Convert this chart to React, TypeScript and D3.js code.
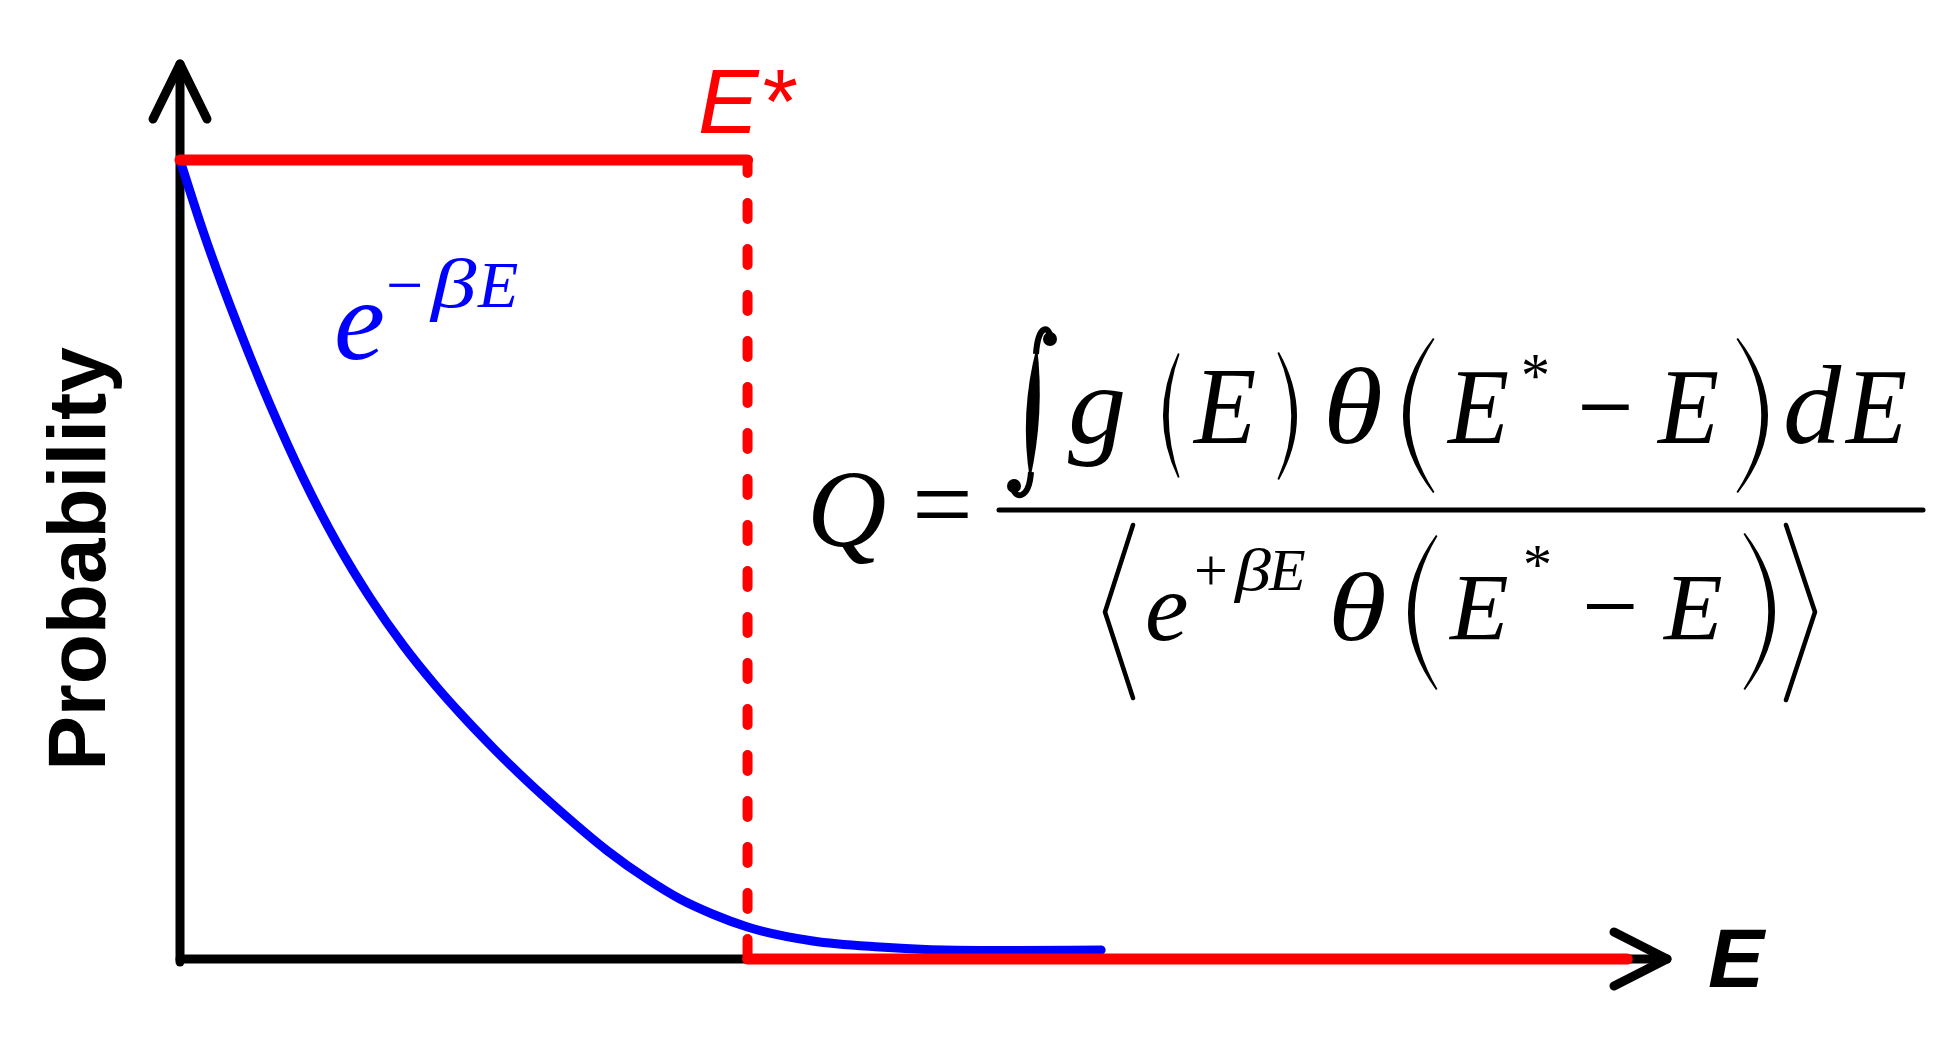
import { useEffect, useRef } from 'react';
import * as d3 from 'd3';

// energy in units of the cut-off E*, probability normalised to the step height
const energyStar = 1.0;
const energyAxisMax = 2.62;
const probAxisMax = 1.12;
const stepHeight = 1.0;
const stepEnd = 2.55;

// blue curve
const boltzE = [0, 0.041, 0.1, 0.159, 0.217, 0.277, 0.335, 0.393, 0.453, 0.493, 0.552, 0.611, 0.67, 0.752, 0.823, 0.881, 0.939, 1.0, 1.115, 1.233, 1.41, 1.623];
const boltzP = [1.0, 0.91, 0.796, 0.693, 0.602, 0.52, 0.452, 0.393, 0.34, 0.308, 0.264, 0.223, 0.185, 0.136, 0.1, 0.075, 0.056, 0.04, 0.0225, 0.015, 0.0106, 0.0113];

const yLabel = 'Probability';
const xLabel = 'E';
const cutLabel = 'E*';

const SERIF = '"Liberation Serif", "Times New Roman", serif';
const SANS = '"Liberation Sans", Arial, sans-serif';

export default function App() {
  const svgRef = useRef<SVGSVGElement>(null);

  useEffect(() => {
    if (!svgRef.current) return;
    const width = 1943;
    const height = 1056;

    const svg = d3.select(svgRef.current);
    svg.selectAll('*').remove();
    svg.attr('width', width).attr('height', height);

    const x = d3.scaleLinear().domain([0, energyAxisMax]).range([180, 1667]);
    const y = d3.scaleLinear().domain([0, probAxisMax]).range([959, 64.1]);

    // axes with open arrow heads
    const axes = svg.append('g').attr('stroke', '#000').attr('stroke-width', 9)
      .attr('stroke-linecap', 'round').attr('fill', 'none');
    axes.append('line').attr('x1', x(0)).attr('y1', y(0) + 3).attr('x2', x(0)).attr('y2', y(probAxisMax));
    axes.append('line').attr('x1', x(0)).attr('y1', y(0)).attr('x2', x(energyAxisMax)).attr('y2', y(0));
    axes.append('path').attr('stroke-linejoin', 'round')
      .attr('d', `M${x(0) - 27},${y(probAxisMax) + 55}L${x(0)},${y(probAxisMax)}L${x(0) + 27},${y(probAxisMax) + 55}`);
    axes.append('path').attr('stroke-linejoin', 'round')
      .attr('d', `M${x(energyAxisMax) - 53},${y(0) - 27}L${x(energyAxisMax)},${y(0)}L${x(energyAxisMax) - 53},${y(0) + 27}`);

    // e^{-beta E}
    const line = d3.line<number>()
      .x((_, i) => x(boltzE[i]))
      .y((d) => y(d))
      .curve(d3.curveMonotoneX);
    svg.append('path').attr('d', line(boltzP) || '').attr('fill', 'none')
      .attr('stroke', '#0000ff').attr('stroke-width', 9).attr('stroke-linecap', 'round');

    // step function theta(E* - E)
    const red = svg.append('g').attr('stroke', '#ff0000').attr('fill', 'none').attr('stroke-linecap', 'round');
    red.append('line').attr('stroke-width', 11)
      .attr('x1', x(0)).attr('y1', y(stepHeight)).attr('x2', x(energyStar)).attr('y2', y(stepHeight));
    red.append('line').attr('stroke-width', 10).attr('stroke-dasharray', '16 30').attr('stroke-dashoffset', 3)
      .attr('x1', x(energyStar)).attr('y1', y(stepHeight)).attr('x2', x(energyStar)).attr('y2', y(0));
    red.append('line').attr('stroke-width', 11)
      .attr('x1', x(energyStar)).attr('y1', y(0)).attr('x2', x(stepEnd)).attr('y2', y(0));

    // labels
    svg.append('text').attr('transform', 'translate(105,559) rotate(-90)')
      .attr('text-anchor', 'middle').attr('font-family', SANS).attr('font-weight', 'bold')
      .attr('font-size', 82).attr('fill', '#000').text(yLabel);
    svg.append('text').attr('x', 1708).attr('y', 987).attr('font-family', SANS)
      .attr('font-weight', 'bold').attr('font-style', 'italic').attr('font-size', 84).text(xLabel);
    svg.append('text').attr('x', 698).attr('y', 133).attr('font-family', SANS)
      .attr('font-style', 'italic').attr('font-size', 91).attr('fill', '#ff0000').text(cutLabel);

    const put = (g: any, s: string, px: number, py: number, size: number, italic = true, fill = '#000', sx = 1) =>
      g.append('text')
        .attr('transform', `translate(${px},${py}) scale(${sx},1)`)
        .attr('font-family', SERIF)
        .attr('font-style', italic ? 'italic' : 'normal').attr('font-size', size).attr('fill', fill).text(s);

    // blue e^{-βE}
    put(svg, 'e', 334, 359, 115, true, '#0000ff');
    put(svg, '\u2212', 386, 307, 66, false, '#0000ff');
    put(svg, '\u03b2', 431, 307, 70, true, '#0000ff', 1.3);
    put(svg, 'E', 478, 307, 66, true, '#0000ff');

    // Q = ...
    put(svg, 'Q', 807, 546, 110);
    put(svg, '=', 912, 540, 108, false);
    svg.append('line').attr('x1', 999).attr('x2', 1923).attr('y1', 510).attr('y2', 510)
      .attr('stroke', '#000').attr('stroke-width', 5).attr('stroke-linecap', 'round');

    const paren = (x0: number, x1: number, yt: number, yb: number, left: boolean, t = 6) => {
      const ym = (yt + yb) / 2;
      if (left) {
        const cOut = 2 * x0 - x1;
        const cIn = 2 * (x0 + t) - x1;
        return `M${x1},${yt}Q${cOut},${ym} ${x1},${yb}L${x1 + 1.5},${yb - 1}Q${cIn},${ym} ${x1 + 1.5},${yt + 1}Z`;
      }
      const cOut = 2 * x1 - x0;
      const cIn = 2 * (x1 - t) - x0;
      return `M${x0},${yt}Q${cOut},${ym} ${x0},${yb}L${x0 - 1.5},${yb - 1}Q${cIn},${ym} ${x0 - 1.5},${yt + 1}Z`;
    };
    const glyphs = svg.append('g').attr('fill', '#000');
    [
      paren(1163, 1178, 353, 478, true, 5),
      paren(1279, 1297, 352, 480, false, 5),
      paren(1403, 1433, 338, 493, true),
      paren(1738, 1768, 338, 493, false),
      paren(1408, 1436, 535, 690, true),
      paren(1745, 1775, 533, 690, false),
      // integral stem
      'M1037,346Q1045,413 1030,480Q1019,413 1037,346Z',
    ].forEach((d) => glyphs.append('path').attr('d', d));
    glyphs.append('path').attr('fill', 'none').attr('stroke', '#000').attr('stroke-width', 6)
      .attr('d', 'M1051,338C1049,325 1038,324 1036,354M1031,472C1029,500 1015,499 1013,488');
    glyphs.append('circle').attr('cx', 1050).attr('cy', 339).attr('r', 7);
    glyphs.append('circle').attr('cx', 1014).attr('cy', 486).attr('r', 7);
    svg.append('path').attr('fill', 'none').attr('stroke', '#000').attr('stroke-width', 4.5)
      .attr('stroke-linecap', 'round').attr('stroke-linejoin', 'round')
      .attr('d', 'M1133,525L1105,612L1133,698M1786,525L1815,612L1786,700');

    // numerator, slightly stretched vertically
    const num = svg.append('g').attr('transform', 'translate(0,443) scale(1,1.08)');
    put(num, 'g', 1068, 0, 104, true, '#000', 1.12);
    put(num, 'E', 1194, 0, 102);
    put(num, '\u03b8', 1323, 0, 100, true, '#000', 1.22);
    put(num, 'E', 1448, 0, 100);
    put(num, '*', 1521, -43, 58, false);
    put(num, '\u2212', 1577, 0, 100, false);
    put(num, 'E', 1658, 0, 100);
    put(num, 'd', 1783, 0, 104, true, '#000', 1.12);
    put(num, 'E', 1846, 0, 100);

    // denominator
    put(svg, 'e', 1145, 640, 98);
    put(svg, '+', 1194, 590, 60, false);
    put(svg, '\u03b2', 1235, 590, 60, true, '#000', 1.2);
    put(svg, 'E', 1269, 590, 60);
    put(svg, '\u03b8', 1328, 640, 98, true, '#000', 1.22);
    put(svg, 'E', 1450, 640, 96);
    put(svg, '*', 1523, 584, 58, false);
    put(svg, '\u2212', 1582, 640, 100, false);
    put(svg, 'E', 1664, 640, 96);
  }, []);

  return (
    <svg ref={svgRef} style={{ position: 'absolute', left: 0, top: 0, background: '#fff' }} />
  );
}
